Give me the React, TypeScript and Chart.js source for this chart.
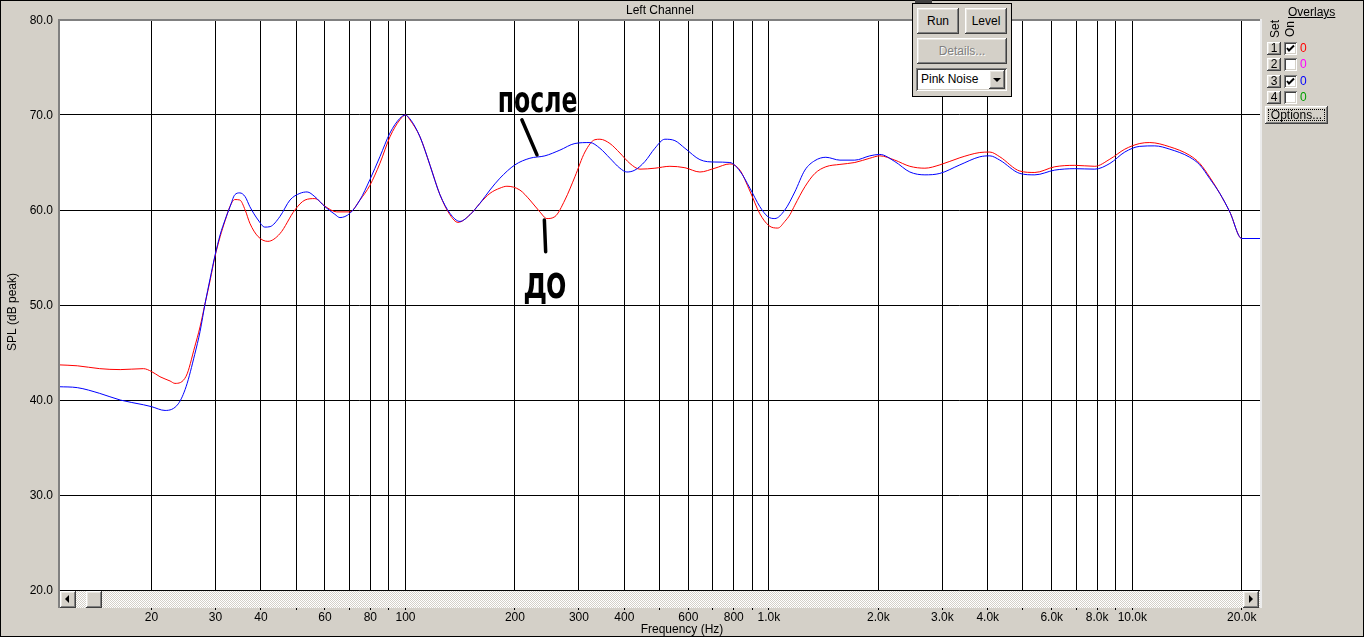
import React, { useEffect, useRef } from "react";
import { Chart, registerables } from "chart.js";

Chart.register(...registerables);

// ---------- data ----------
const freqBefore = [11.1, 12.5, 14.4, 16.4, 19.0, 20.0, 21.1, 22.5, 23.2, 24.9, 26.3, 27.2, 28.1, 29.0, 29.9, 30.9, 31.9, 32.9, 33.9, 35.0, 36.2, 37.3, 39.3, 41.8, 45.1, 49.6, 52.9, 56.3, 60.0, 64.7, 70.3, 74.9, 79.8, 85.0, 90.6, 96.5, 100, 102.8, 109.6, 116.8, 124.4, 132.5, 139.4, 150.4, 160.2, 170.7, 181.9, 190.1, 206.4, 219.9, 234.3, 244.9, 257.6, 274.5, 292.5, 311.6, 332.0, 342.7, 365.1, 389.0, 414.4, 441.5, 485.5, 533.9, 587.2, 645.7, 710.0, 780.7, 831.8, 886.3, 944.1, 1000, 1058, 1106, 1142, 1178, 1256, 1338, 1434, 1568, 1723, 1895, 2019, 2220, 2442, 2686, 2953, 3352, 3804, 4053, 4318, 4902, 5391, 6117, 6944, 7881, 8671, 9532, 10482, 11169, 12678, 14390, 15328, 16331, 17400, 18537, 20000, 22450];
const splBefore = [43.7, 43.6, 43.3, 43.2, 43.3, 43.0, 42.45, 42.0, 41.75, 42.5, 45.6, 47.7, 50.2, 52.6, 55.1, 57.2, 58.9, 60.4, 61.1, 61.05, 60.0, 58.6, 57.2, 56.7, 57.5, 60.0, 61.05, 61.2, 60.4, 59.8, 59.8, 61.05, 62.6, 64.9, 67.7, 69.5, 70.0, 69.5, 67.7, 64.7, 61.6, 59.5, 58.7, 59.5, 60.7, 61.75, 62.3, 62.5, 62.1, 61.05, 59.8, 59.1, 59.3, 61.05, 63.5, 66.1, 67.4, 67.45, 67.0, 66.0, 64.9, 64.3, 64.4, 64.6, 64.45, 64.0, 64.4, 64.85, 64.2, 62.0, 59.6, 58.35, 58.1, 58.8, 59.5, 60.5, 62.45, 63.85, 64.55, 64.8, 65.0, 65.45, 65.7, 65.25, 64.6, 64.4, 64.75, 65.5, 66.05, 66.1, 65.6, 64.1, 63.95, 64.55, 64.7, 64.6, 65.35, 66.4, 67.0, 67.1, 66.65, 65.75, 64.9, 63.45, 61.75, 59.8, 57.0, 57.0];

const freqAfter = [11.1, 12.5, 14.4, 16.4, 19.0, 20.0, 21.8, 23.7, 24.9, 26.3, 27.2, 28.1, 29.0, 29.9, 30.9, 31.9, 32.9, 33.9, 35.0, 36.2, 37.3, 39.3, 41.0, 42.4, 45.1, 48.1, 51.2, 53.6, 56.3, 60.0, 63.9, 66.0, 70.3, 74.9, 79.8, 85.0, 90.6, 96.5, 100, 102.8, 106.1, 109.6, 113.1, 116.8, 120.5, 124.4, 132.5, 141.2, 150.4, 160.2, 170.7, 181.9, 200, 219.9, 241.8, 265.9, 292.5, 321.6, 342.7, 365.1, 389.0, 406.5, 427.7, 455.7, 485.5, 517.2, 551.1, 587.2, 645.7, 710.0, 780.7, 831.8, 886.3, 944.1, 993.2, 1038, 1106, 1178, 1256, 1338, 1434, 1568, 1723, 1895, 2019, 2220, 2442, 2686, 2953, 3352, 3804, 4053, 4318, 4902, 5391, 6117, 6944, 7881, 8671, 9532, 10482, 11528, 12678, 14390, 15328, 16331, 17400, 18537, 20000, 22450];
const splAfter = [41.4, 41.3, 40.7, 40.0, 39.5, 39.3, 38.9, 39.6, 41.4, 44.8, 47.2, 50.2, 52.8, 55.2, 57.4, 59.0, 60.35, 61.6, 61.8, 61.4, 60.35, 58.95, 58.2, 58.25, 59.3, 61.05, 61.75, 61.9, 61.4, 60.35, 59.55, 59.2, 59.65, 61.05, 63.2, 65.6, 68.1, 69.65, 70.0, 69.6, 68.8, 67.7, 66.3, 64.7, 63.1, 61.6, 59.65, 58.8, 59.5, 60.7, 62.1, 63.35, 64.75, 65.45, 65.7, 66.3, 67.0, 67.1, 66.5, 65.45, 64.4, 64.0, 64.2, 65.1, 66.5, 67.45, 67.3, 66.5, 65.3, 65.05, 65.0, 64.1, 62.3, 60.35, 59.3, 59.1, 60.0, 61.9, 64.2, 65.2, 65.55, 65.25, 65.25, 65.7, 65.85, 65.1, 64.0, 63.7, 63.85, 64.75, 65.6, 65.7, 65.25, 63.85, 63.7, 64.2, 64.35, 64.3, 64.9, 66.1, 66.7, 66.75, 66.4, 65.55, 64.75, 63.3, 61.75, 59.8, 57.0, 57.0];

const gridFreqs = [20, 30, 40, 50, 60, 70, 80, 90, 100, 200, 300, 400, 500, 600, 700, 800, 900, 1000, 2000, 3000, 4000, 5000, 6000, 7000, 8000, 9000, 10000, 20000];
const gridLabels = ["20", "30", "40", "", "60", "", "80", "", "100", "200", "300", "400", "", "600", "", "800", "", "1.0k", "2.0k", "3.0k", "4.0k", "", "6.0k", "", "8.0k", "", "10.0k", "20.0k"];
const yTicks = [20, 30, 40, 50, 60, 70, 80];
const FREQ_MIN = 11.13;
const FREQ_MAX = 22450;

// handwritten notes (in data units: Hz, dB)
const noteTexts = ["после", "до"];
const noteFreq = [231, 242];
const noteDb = [70.3, 50.85];
const noteMarkFrom = [[209, 69.5], [241, 58.95]];
const noteMarkTo = [[230, 65.8], [243, 55.6]];

const FONT = "'Liberation Sans', Arial, sans-serif";
const GRAY = "#d4d0c8";

const framePlugin = {
  id: "frame",
  beforeDraw(chart: any) {
    const { ctx, chartArea: a, width, height } = chart;
    ctx.save();
    ctx.fillStyle = GRAY;
    ctx.fillRect(0, 0, width, height);
    ctx.fillStyle = "#ffffff";
    ctx.fillRect(a.left, a.top, a.right - a.left, a.bottom - a.top);
    ctx.restore();
  },
  afterDraw(chart: any) {
    const { ctx, chartArea: a, width, height } = chart;
    const xs = chart.scales.x;
    const ys = chart.scales.y;
    ctx.save();
    // sunken frame
    ctx.fillStyle = "#808080";
    ctx.fillRect(a.left - 1, a.top - 1, a.right - a.left + 1, 2);
    ctx.fillRect(a.left - 1, a.top - 1, 2, a.bottom - a.top + 19);
    ctx.fillStyle = "#ececec";
    ctx.fillRect(a.right, a.top - 1, 2, a.bottom - a.top + 19);

    // texts
    ctx.fillStyle = "#000";
    ctx.font = `12px ${FONT}`;
    ctx.textAlign = "center";
    ctx.textBaseline = "alphabetic";
    ctx.fillText("Left Channel", 660, 14);
    ctx.fillText("Frequency (Hz)", 682, 633);
    ctx.save();
    ctx.translate(16, 312);
    ctx.rotate(-Math.PI / 2);
    ctx.fillText("SPL (dB peak)", 0, 0);
    ctx.restore();

    // handwritten notes
    ctx.strokeStyle = "#000";
    ctx.lineWidth = 3.5;
    ctx.lineCap = "round";
    for (let i = 0; i < noteTexts.length; i++) {
      ctx.beginPath();
      ctx.moveTo(xs.getPixelForValue(noteMarkFrom[i][0]), ys.getPixelForValue(noteMarkFrom[i][1]));
      ctx.lineTo(xs.getPixelForValue(noteMarkTo[i][0]), ys.getPixelForValue(noteMarkTo[i][1]));
      ctx.stroke();
      const px = xs.getPixelForValue(noteFreq[i]);
      const py = ys.getPixelForValue(noteDb[i]);
      ctx.save();
      ctx.translate(px, py);
      if (i === 0) {
        ctx.scale(1.18, 1.8);
        ctx.font = `bold 20px 'DejaVu Sans'`;
      } else {
        ctx.scale(1.35, 1.75);
        ctx.font = `24px 'DejaVu Sans'`;
        ctx.lineWidth = 1.2;
        ctx.strokeText(noteTexts[i], 0, 0);
      }
      ctx.textAlign = "center";
      ctx.textBaseline = "alphabetic";
      ctx.fillText(noteTexts[i], 0, 0);
      ctx.restore();
    }

    // outer border
    ctx.strokeStyle = "#000";
    ctx.lineWidth = 1;
    ctx.strokeRect(0.5, 0.5, width - 1, height - 1);
    ctx.restore();
  },
};

const raised: React.CSSProperties = {
  position: "absolute",
  background: GRAY,
  boxSizing: "border-box",
  boxShadow: "inset -1px -1px #404040, inset 1px 1px #ffffff, inset -2px -2px #808080, inset 2px 2px #e8e6e0",
  textAlign: "center",
  color: "#000",
  fontSize: 12,
};
const sunken: React.CSSProperties = {
  position: "absolute",
  background: "#fff",
  boxSizing: "border-box",
  boxShadow: "inset 1px 1px #808080, inset -1px -1px #ffffff, inset 2px 2px #404040, inset -2px -2px #d4d0c8",
};

function Btn(props: { x: number; y: number; w: number; h: number; label: string; disabled?: boolean; focus?: boolean }) {
  const { x, y, w, h, label, disabled, focus } = props;
  return (
    <div style={{ ...raised, left: x, top: y, width: w, height: h, lineHeight: `${h}px`, color: disabled ? "#808080" : "#000", textShadow: disabled ? "1px 1px #fff" : "none" }}>
      {focus ? (
        <div style={{ position: "absolute", left: 3, top: 3, right: 3, bottom: 3, border: "1px dotted #000", lineHeight: `${h - 8}px` }}>{label}</div>
      ) : label}
    </div>
  );
}

function Check({ x, y, on }: { x: number; y: number; on: boolean }) {
  return (
    <div style={{ ...sunken, left: x, top: y, width: 13, height: 13 }}>
      {on && (
        <svg width="13" height="13" style={{ position: "absolute", left: 0, top: 0 }}>
          <polyline points="3,6 5,8.5 10,3.5" fill="none" stroke="#000" strokeWidth="2" />
        </svg>
      )}
    </div>
  );
}

function Arrow({ dir }: { dir: "left" | "right" | "down" }) {
  const base: React.CSSProperties = { position: "absolute", width: 0, height: 0 };
  if (dir === "down")
    return <div style={{ ...base, left: 4, top: 8, borderLeft: "4px solid transparent", borderRight: "4px solid transparent", borderTop: "4px solid #000" }} />;
  if (dir === "left")
    return <div style={{ ...base, left: 5, top: 4, borderTop: "4px solid transparent", borderBottom: "4px solid transparent", borderRight: "4px solid #000" }} />;
  return <div style={{ ...base, left: 6, top: 4, borderTop: "4px solid transparent", borderBottom: "4px solid transparent", borderLeft: "4px solid #000" }} />;
}

export default function App() {
  const ref = useRef<HTMLCanvasElement>(null);

  useEffect(() => {
    if (!ref.current) return;
    Chart.defaults.font.family = FONT;
    Chart.defaults.font.size = 12;
    const chart = new Chart(ref.current, {
      type: "line",
      data: {
        datasets: [
          {
            label: "после",
            data: freqAfter.map((f, i) => ({ x: f, y: splAfter[i] })),
            borderColor: "#0000ff",
            borderWidth: 1,
            pointRadius: 0,
            cubicInterpolationMode: "monotone",
            fill: false,
          },
          {
            label: "до",
            data: freqBefore.map((f, i) => ({ x: f, y: splBefore[i] })),
            borderColor: "#ff0000",
            borderWidth: 1,
            pointRadius: 0,
            cubicInterpolationMode: "monotone",
            fill: false,
          },
        ],
      },
      options: {
        responsive: false,
        animation: false,
        devicePixelRatio: 1,
        events: [],
        layout: { padding: { left: 0, top: 20, right: 104, bottom: 0 } },
        plugins: { legend: { display: false }, tooltip: { enabled: false }, title: { display: false } },
        scales: {
          x: {
            type: "logarithmic",
            min: FREQ_MIN,
            max: FREQ_MAX,
            afterBuildTicks: (s: any) => {
              s.ticks = gridFreqs.map((v) => ({ value: v }));
            },
            afterFit: (s: any) => {
              s.height = 47;
              s.paddingLeft = 0;
              s.paddingRight = 0;
            },
            ticks: {
              autoSkip: false,
              maxRotation: 0,
              minRotation: 0,
              padding: 0,
              color: "#000",
              font: { size: 12, family: FONT },
              callback: (_v: any, i: number) => gridLabels[i],
            },
            grid: { color: "#000", lineWidth: 1, tickLength: 20, drawTicks: true },
            border: { display: false },
          },
          y: {
            min: 20,
            max: 80,
            afterBuildTicks: (s: any) => {
              s.ticks = yTicks.map((v) => ({ value: v }));
            },
            afterFit: (s: any) => {
              s.width = 59;
              s.paddingTop = 0;
              s.paddingBottom = 0;
            },
            ticks: {
              padding: 6,
              labelOffset: 1,
              color: "#000",
              font: { size: 12, family: FONT },
              callback: (v: any) => Number(v).toFixed(1),
            },
            grid: { color: "#000", lineWidth: 1, drawTicks: false },
            border: { display: false },
          },
        },
      } as any,
      plugins: [framePlugin],
    });
    return () => chart.destroy();
  }, []);

  const rows = [
    { n: "1", on: true, c: "#ff0000" },
    { n: "2", on: false, c: "#ff00ff" },
    { n: "3", on: true, c: "#0000ff" },
    { n: "4", on: false, c: "#00a000" },
  ];
  const rowTop = [42, 58, 75, 91];

  return (
    <div style={{ position: "fixed", left: 0, top: 0, width: 1364, height: 637, background: GRAY, overflow: "hidden", fontFamily: FONT, fontSize: 12 }}>
      <canvas ref={ref} width={1364} height={637} style={{ position: "absolute", left: 0, top: 0, width: 1364, height: 637 }} />

      {/* scrollbar */}
      <div style={{ position: "absolute", left: 60, top: 591, width: 1200, height: 17, background: "repeating-conic-gradient(#d4d0c8 0% 25%, #ffffff 0% 50%) 0 0 / 2px 2px" }} />
      <div style={{ ...raised, left: 60, top: 591, width: 16, height: 17 }}><Arrow dir="left" /></div>
      <div style={{ ...raised, left: 86, top: 591, width: 16, height: 17 }} />
      <div style={{ ...raised, left: 1243, top: 591, width: 16, height: 17 }}><Arrow dir="right" /></div>

      {/* run panel */}
      <div style={{ position: "absolute", left: 915, top: 0, width: 17, height: 3, background: "#404040" }} />
      <div style={{ position: "absolute", left: 912, top: 3, width: 100, height: 94, background: GRAY, border: "1px solid #000", boxSizing: "border-box" }} />
      <Btn x={917} y={8} w={42} h={26} label="Run" />
      <Btn x={965} y={8} w={42} h={26} label="Level" />
      <Btn x={917} y={38} w={90} h={26} label="Details..." disabled />
      <div style={{ ...sunken, left: 916, top: 68, width: 91, height: 23, lineHeight: "23px", paddingLeft: 5, color: "#000", fontSize: 12 }}>Pink Noise</div>
      <div style={{ ...raised, left: 989, top: 70, width: 16, height: 19 }}><Arrow dir="down" /></div>

      {/* overlays panel */}
      <div style={{ position: "absolute", left: 1288, top: 5, fontSize: 12, color: "#000", textDecoration: "underline", lineHeight: "14px" }}>Overlays</div>
      <div style={{ position: "absolute", left: 1266, top: 22, width: 18, height: 14, fontSize: 12, lineHeight: "14px", transform: "rotate(-90deg)", transformOrigin: "50% 50%", textAlign: "center", color: "#000" }}>Set</div>
      <div style={{ position: "absolute", left: 1282, top: 22, width: 16, height: 14, fontSize: 12, lineHeight: "14px", transform: "rotate(-90deg)", transformOrigin: "50% 50%", textAlign: "center", color: "#000" }}>On</div>
      {rows.map((r, i) => (
        <React.Fragment key={r.n}>
          <Btn x={1267} y={rowTop[i]} w={14} h={13} label={r.n} />
          <Check x={1284} y={rowTop[i]} on={r.on} />
          <div style={{ position: "absolute", left: 1300, top: rowTop[i] - 1, fontSize: 12, lineHeight: "14px", color: r.c }}>0</div>
        </React.Fragment>
      ))}
      <Btn x={1265} y={106} w={63} h={18} label="Options..." focus />
    </div>
  );
}
